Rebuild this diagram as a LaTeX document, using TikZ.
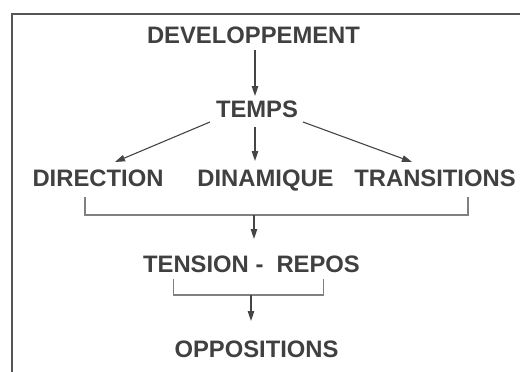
\documentclass[tikz,border=0pt]{standalone}
\usepackage{fontspec}
\setmainfont{Liberation Sans}
\usetikzlibrary{arrows.meta}
\definecolor{txt}{HTML}{404040}
\definecolor{arrc}{HTML}{454545}
\definecolor{brk}{HTML}{808080}
\definecolor{frm}{HTML}{555555}
\tikzset{
  lbl/.style={anchor=base, inner sep=0pt, text=txt, font=\bfseries\fontsize{23.8}{28}\selectfont},
  arr/.style={draw=arrc, line width=1.1pt, -{Triangle[length=10pt,width=6.5pt]}},
  brack/.style={draw=brk, line width=1.5pt},
  frame/.style={draw=frm, line width=2.4pt}
}
\begin{document}
\begin{tikzpicture}[x=1pt,y=-1pt]
\useasboundingbox (0,0) rectangle (520,372);
\draw[frame] (12,373) -- (12,14) -- (521,14);
% texts
\node[lbl] (dev) at (253.5,43) {DEVELOPPEMENT};
\node[lbl] (temps) at (257,117.5) {TEMPS};
\node[lbl] (dir) at (98,186.5) {DIRECTION};
\node[lbl] (din) at (265.5,186.5) {DINAMIQUE};
\node[lbl] (tra) at (435,186.5) {TRANSITIONS};
\node[lbl] (ten) at (251.5,272.5) {TENSION -\hspace{0.55em}REPOS};
\node[lbl] (opp) at (256.5,357) {OPPOSITIONS};
% coordinates
\coordinate (a1s) at (255,49.5);
\coordinate (a1e) at (255,96);
\coordinate (l1s) at (210,122);
\coordinate (l1e) at (115,162);
\coordinate (m1s) at (255,127);
\coordinate (m1e) at (255,161);
\coordinate (r1s) at (303,122);
\coordinate (r1e) at (412,162);
\coordinate (b1l) at (85,197);
\coordinate (b1r) at (468,197);
\coordinate (b1m) at (254,215);
\coordinate (b1e) at (254,239);
\coordinate (b2l) at (173.5,279);
\coordinate (b2r) at (323.5,279);
\coordinate (b2m) at (251,295);
\coordinate (b2e) at (251,321);
% connectors
\draw[arr] (a1s) -- (a1e);
\draw[arr] (l1s) -- (l1e);
\draw[arr] (m1s) -- (m1e);
\draw[arr] (r1s) -- (r1e);
\draw[brack] (b1l) |- (b1m) -| (b1r);
\draw[arr] (b1m) -- (b1e);
\draw[brack] (b2l) |- (b2m) -| (b2r);
\draw[arr] (b2m) -- (b2e);
\end{tikzpicture}
\end{document}
